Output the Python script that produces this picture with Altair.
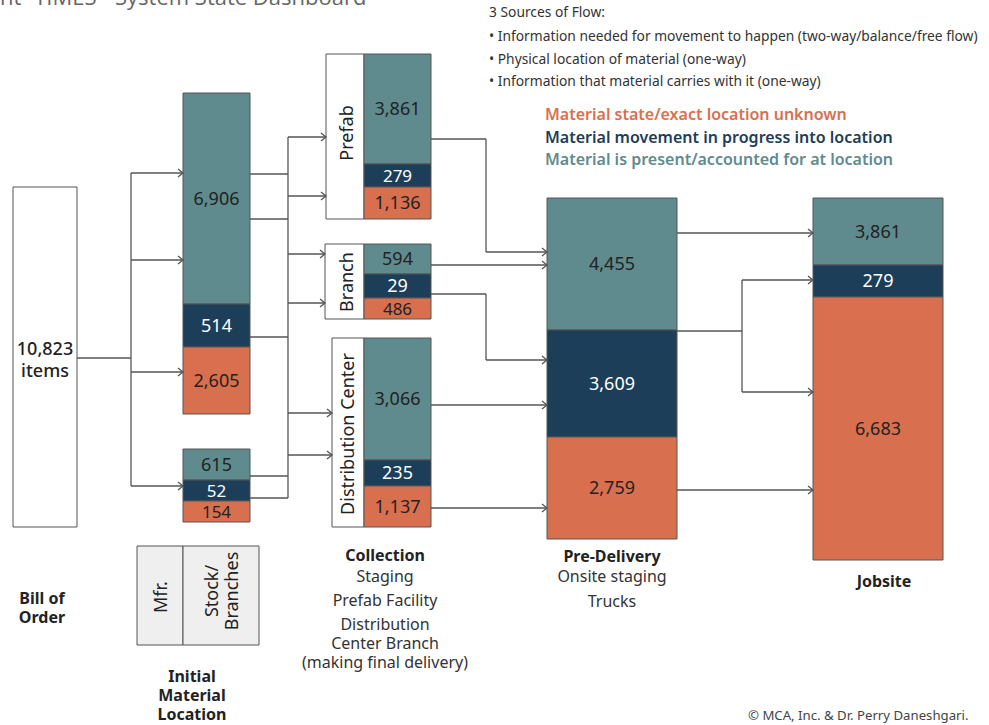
import altair as alt
import pandas as pd

W, H = 989, 725

# ---------------- values ----------------
statuses = ["present", "moving", "unknown"]
bill_total = "10,823"
init_top = [6906, 514, 2605]
init_bottom = [615, 52, 154]
prefab = [3861, 279, 1136]
branch = [594, 29, 486]
dist_center = [3066, 235, 1137]
pre_delivery = [4455, 3609, 2759]
jobsite = [3861, 279, 6683]

legend_items = ["Material state/exact location unknown",
                "Material movement in progress into location",
                "Material is present/accounted for at location"]
flow_header = "3 Sources of Flow:"
flow_items = ["• Information needed for movement to happen (two-way/balance/free flow)",
              "• Physical location of material (one-way)",
              "• Information that material carries with it (one-way)"]

# ---------------- styles ----------------
status_fill = {"present": "#5f8b8e", "moving": "#1d3e58", "unknown": "#d8704f"}
status_text = {"present": "#222222", "moving": "#ffffff", "unknown": "#222222"}
legend_colors = ["#d8704f", "#1d3e58", "#5f8b8e"]
LINE = "#555555"
FONT = "Noto Sans"
NUMFONT = "Noto Sans"

# ---------------- schematic layout (pixel geometry) ----------------
bar_layout = [
    # values, x0, x1, [top, b1, b2, bottom]
    (init_top, 183, 250, [93, 304, 347, 414]),
    (init_bottom, 183, 250, [449, 480, 501, 522]),
    (prefab, 364, 431, [54, 164, 187, 219]),
    (branch, 364, 431, [244, 274, 298, 319]),
    (dist_center, 364, 431, [338, 460, 486, 527]),
    (pre_delivery, 547, 677, [198, 330, 437, 539]),
    (jobsite, 813, 943, [198, 265, 297, 560]),
]
white_boxes = [  # x0, x1, y0, y1
    (13, 77, 187, 527),
    (326, 364, 54, 219),
    (325, 364, 244, 319),
    (332, 364, 338, 527),
]
grey_boxes = [(137, 183, 546, 645), (183, 259, 546, 645)]

plain_segments = [
    (77, 358, 131, 358), (131, 173, 131, 486),
    (250, 174, 288, 174), (250, 219, 288, 219), (250, 337, 288, 337),
    (250, 476, 288, 476), (250, 498, 288, 498), (288, 137, 288, 498),
    (431, 139, 486, 139), (486, 139, 486, 252),
    (431, 294, 486, 294), (486, 294, 486, 360),
    (677, 331, 742, 331), (742, 280, 742, 392),
]
arrow_segments = [
    (131, 173, 183, 173), (131, 260, 183, 260), (131, 372, 183, 372), (131, 486, 183, 486),
    (288, 137, 326, 137), (288, 196, 326, 196), (288, 254, 325, 254), (288, 303, 325, 303),
    (288, 413, 332, 413), (288, 455, 332, 455),
    (486, 252, 547, 252), (431, 265, 547, 265), (486, 360, 547, 360),
    (431, 405, 547, 405), (431, 508, 547, 508),
    (677, 233, 813, 233), (742, 280, 813, 280), (742, 392, 813, 392), (677, 490, 813, 490),
]

# ---------------- tables ----------------
rect_rows, val_rows = [], []
for vals, x0, x1, ys in bar_layout:
    for i, (v, s) in enumerate(zip(vals, statuses)):
        rect_rows.append(dict(x=x0, x2=x1, y=ys[i], y2=ys[i + 1], fill=status_fill[s]))
        small = (ys[i + 1] - ys[i]) < 24
        val_rows.append(dict(x=(x0 + x1) / 2, y=(ys[i] + ys[i + 1]) / 2 + 1,
                             t=f"{v:,}", fill=status_text[s], size=17 if small else 18))
rects = pd.DataFrame(rect_rows)
vals_df = pd.DataFrame(val_rows)
white_df = pd.DataFrame([dict(x=a, x2=b, y=c, y2=d) for a, b, c, d in white_boxes])
grey_df = pd.DataFrame([dict(x=a, x2=b, y=c, y2=d) for a, b, c, d in grey_boxes])
seg_df = pd.DataFrame([dict(x=a, y=b, x2=c, y2=d) for a, b, c, d in plain_segments + arrow_segments])
tip_df = pd.DataFrame([dict(x=c, y=d) for a, b, c, d in arrow_segments])

xs = alt.Scale(domain=[0, W], nice=False, zero=False)
ys_ = alt.Scale(domain=[0, H], nice=False, zero=False, reverse=True)
X = alt.X("x:Q", scale=xs, axis=None)
Y = alt.Y("y:Q", scale=ys_, axis=None)


def rect_layer(df, **kw):
    return alt.Chart(df).mark_rect(**kw).encode(x=X, x2="x2:Q", y=Y, y2="y2:Q")


def text_layer(rows, **kw):
    df = pd.DataFrame([dict(x=a, y=b, t=c) for a, b, c in rows])
    return alt.Chart(df).mark_text(**kw).encode(x=X, y=Y, text="t:N")


layers = []
layers.append(rect_layer(white_df, fill="white", stroke=LINE, strokeWidth=1))
layers.append(rect_layer(grey_df, fill="#efefef", stroke=LINE, strokeWidth=1))
layers.append(alt.Chart(rects).mark_rect(stroke=LINE, strokeWidth=1).encode(
    x=X, x2="x2:Q", y=Y, y2="y2:Q", fill=alt.Fill("fill:N", scale=None)))
layers.append(alt.Chart(seg_df).mark_rule(color=LINE, strokeWidth=1.3).encode(
    x=X, y=Y, x2="x2:Q", y2="y2:Q"))
layers.append(alt.Chart(tip_df).mark_point(
    shape="M-1,-0.8L0,0L-1,0.8", size=100, filled=False, color=LINE,
    strokeWidth=1.3, opacity=1).encode(x=X, y=Y))
layers.append(alt.Chart(vals_df).mark_text(font=NUMFONT, baseline="middle").encode(
    x=X, y=Y, text="t:N", fill=alt.Fill("fill:N", scale=None),
    size=alt.Size("size:Q", scale=None)))

# bill of order text
layers.append(text_layer([(45, 350, bill_total + "\nitems")],
                         font=NUMFONT, fontSize=18, fontWeight=500, color="#222",
                         baseline="middle", lineBreak="\n", lineHeight=22))
# vertical labels
layers.append(text_layer([(348, 133, "Prefab"), (348, 282, "Branch"), (349, 434, "Distribution Center"),
                          (162, 597, "Mfr.")],
                         font=NUMFONT, fontSize=18, angle=270, color="#222", baseline="middle"))
layers.append(text_layer([(213, 591, "Stock/\nBranches")],
                         font=NUMFONT, fontSize=18, angle=270, color="#222", baseline="middle",
                         lineBreak="\n", lineHeight=20))
# bold stage labels
layers.append(text_layer([(42, 599, "Bill of\nOrder"),
                          (192, 677, "Initial\nMaterial\nLocation"),
                          (385, 556, "Collection"), (612, 557, "Pre-Delivery"), (884, 582, "Jobsite")],
                         font=FONT, fontSize=16, fontWeight="bold", color="#222", baseline="middle",
                         lineBreak="\n", lineHeight=19))
layers.append(text_layer([(385, 577, "Staging"), (385, 601, "Prefab Facility"),
                          (385, 625, "Distribution\nCenter Branch\n(making final delivery)"),
                          (612, 577, "Onsite staging"), (612, 602, "Trucks")],
                         font=FONT, fontSize=16, color="#333", baseline="middle",
                         lineBreak="\n", lineHeight=19))
# flow legend
layers.append(text_layer([(489, 13, flow_header)] +
                         [(489, yy, t) for yy, t in zip([37, 60, 82], flow_items)],
                         font=FONT, fontSize=13.8, color="#333", align="left", baseline="middle"))
leg_df = pd.DataFrame([dict(x=545, y=yy, t=t, fill=c)
                       for yy, t, c in zip([115, 138, 160], legend_items, legend_colors)])
layers.append(alt.Chart(leg_df).mark_text(font=FONT, fontSize=16, fontWeight=600,
                                          align="left", baseline="middle").encode(
    x=X, y=Y, text="t:N", fill=alt.Fill("fill:N", scale=None)))
# title (cropped at top in the original) and credit
layers.append(text_layer([(0, 5, "nt- TIMES - System State Dashboard")],
                         font="Open Sans", fontSize=22, color="#666", align="left",
                         baseline="alphabetic"))
layers.append(text_layer([(748, 716, "© MCA, Inc. & Dr. Perry Daneshgari.")],
                         font=FONT, fontSize=13.2, color="#444", align="left", baseline="middle"))

chart = alt.layer(*layers).properties(
    width=W, height=H, padding=0, autosize="none", background="white"
).configure_view(stroke=None)

chart.save("out.html", embed_options={"renderer": "svg", "actions": False})
